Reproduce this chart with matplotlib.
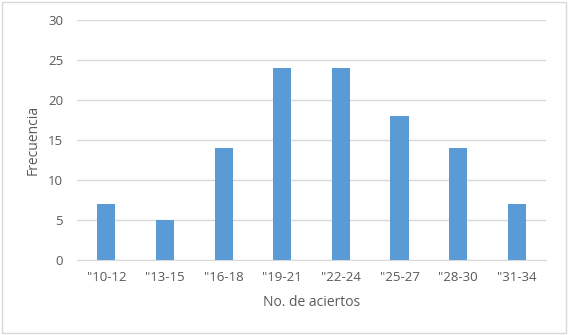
import numpy as np
import matplotlib.pyplot as plt
from matplotlib.patches import Rectangle

categories = ['"10-12', '"13-15', '"16-18', '"19-21', '"22-24', '"25-27', '"28-30', '"31-34']
frecuencia = [7, 5, 14, 24, 24, 18, 14, 7]

plt.rcParams['font.family'] = ['Open Sans', 'DejaVu Sans']
text_color = '#595959'

fig = plt.figure(figsize=(5.68, 3.35), dpi=100)
ax = fig.add_axes([0.1356, 0.224, 0.826, 0.716])

x = np.arange(len(categories))
ax.bar(x, frecuencia, width=0.31, color='#5b9bd5', zorder=3)

ax.set_xlim(-0.5, len(categories) - 0.5)
ax.set_ylim(0, 30)
ax.set_yticks(range(0, 31, 5))
ax.set_xticks(x)
ax.set_xticklabels(categories)
ax.grid(axis='y', color='#d9d9d9', linewidth=1, zorder=0)
for side in ['top', 'right', 'left']:
    ax.spines[side].set_visible(False)
ax.spines['bottom'].set_color('#d9d9d9')
ax.tick_params(axis='both', length=0, labelsize=9.5, colors=text_color, pad=8)
ax.tick_params(axis='y', pad=10)

ax.set_xlabel('No. de aciertos', fontsize=10, color=text_color, labelpad=8)
ax.set_ylabel('Frecuencia', fontsize=10, color=text_color, labelpad=5)

# light chart border
fig.patches.append(Rectangle((0.004, 0.006), 0.992, 0.988, transform=fig.transFigure,
                             fill=False, edgecolor='#d9d9d9', linewidth=1))

fig.savefig('out.png', dpi=100)
